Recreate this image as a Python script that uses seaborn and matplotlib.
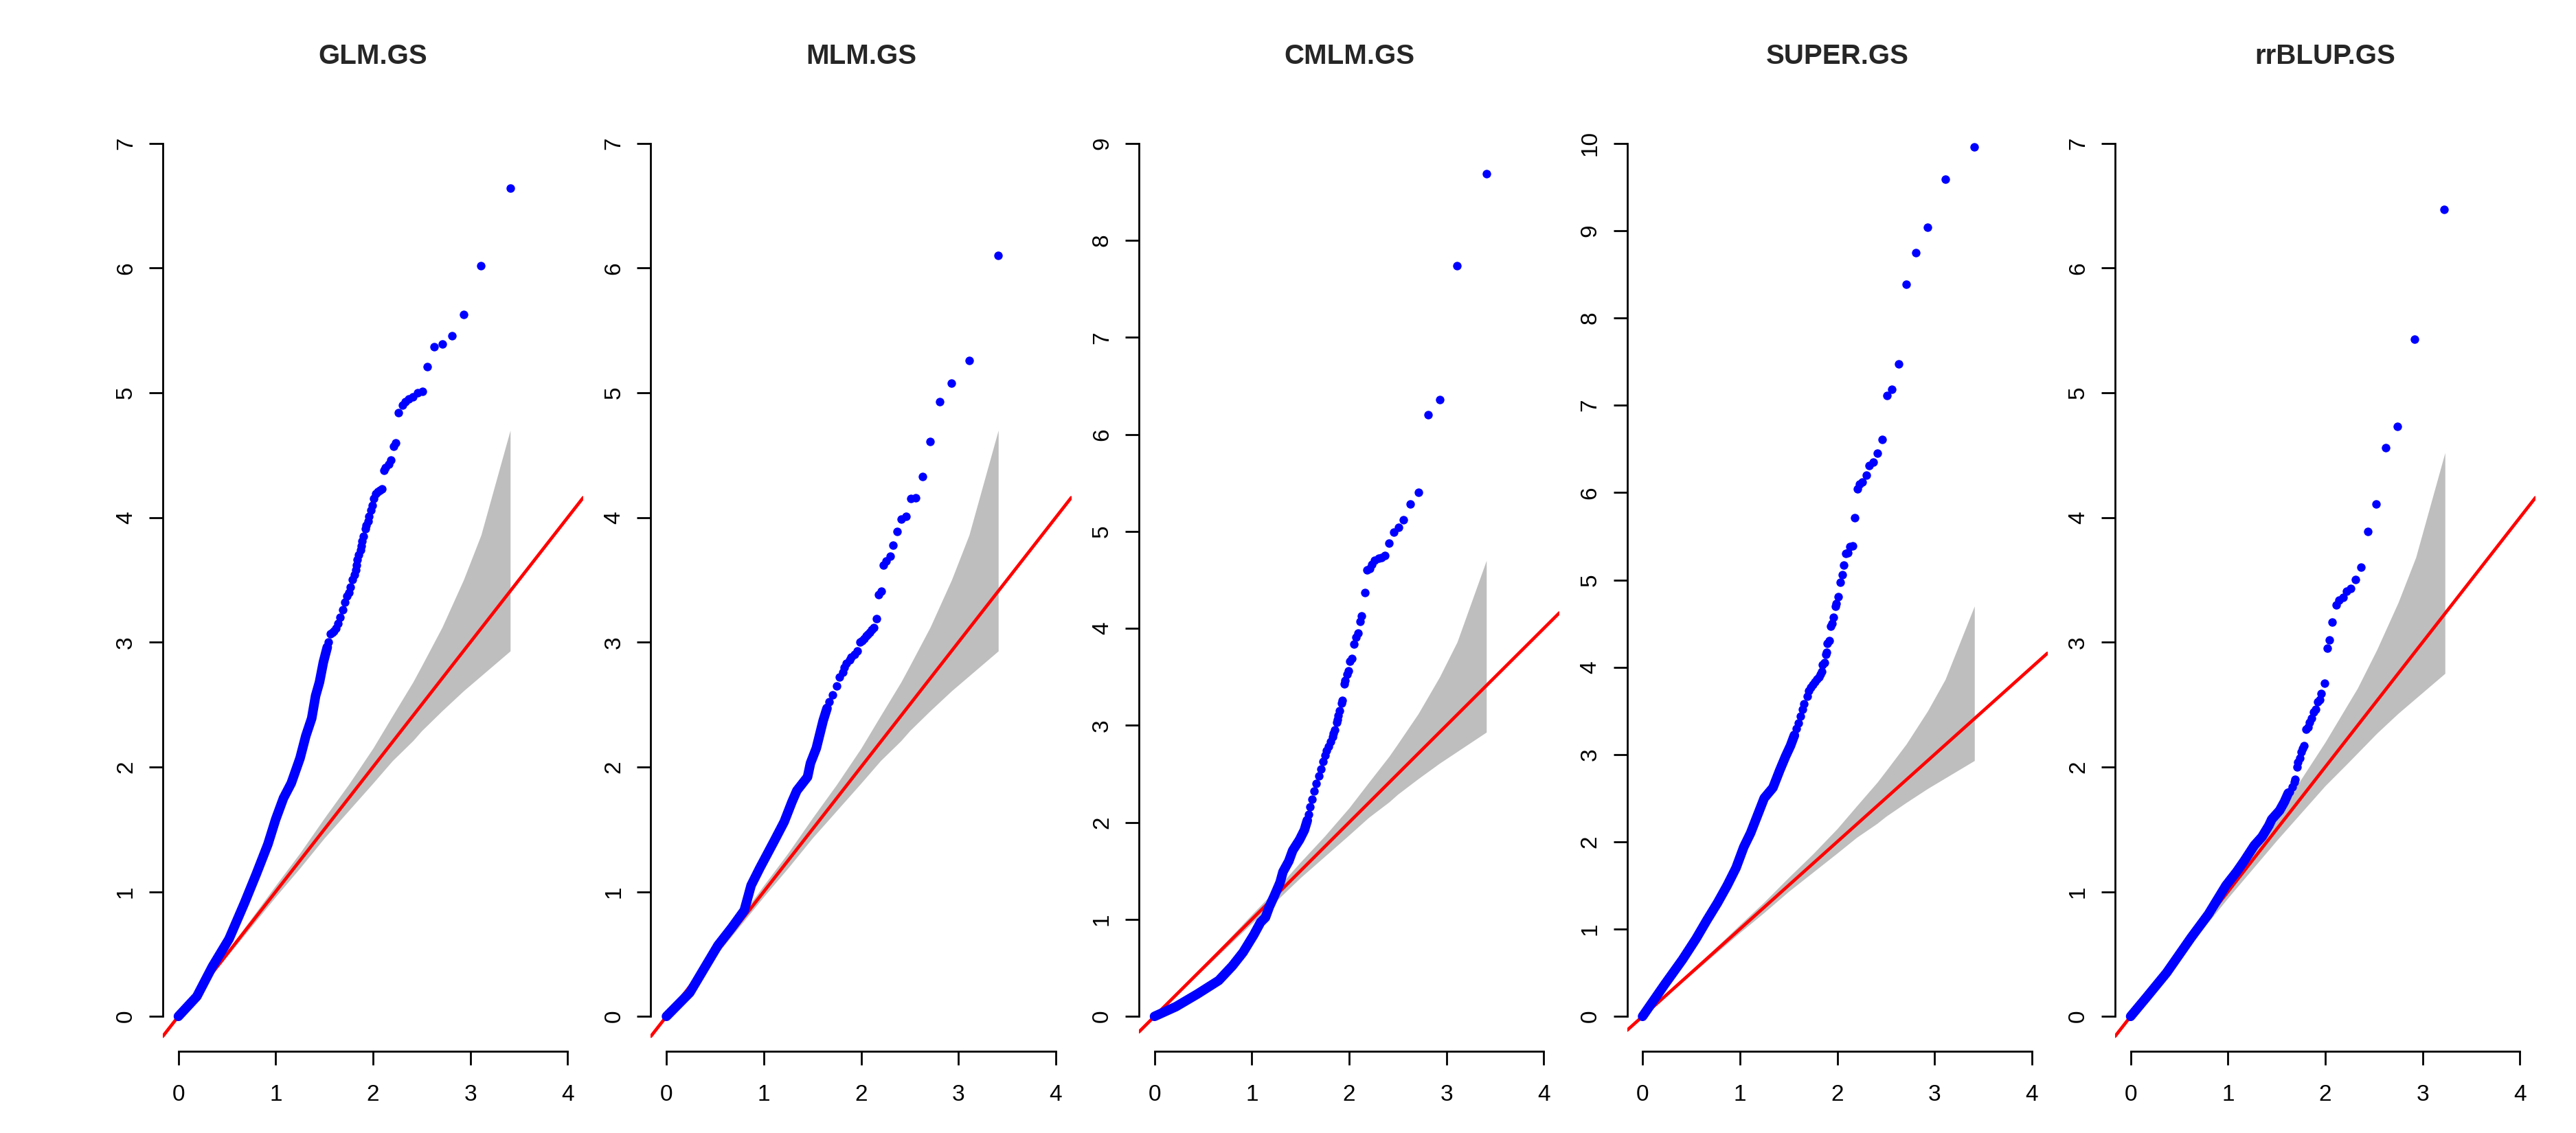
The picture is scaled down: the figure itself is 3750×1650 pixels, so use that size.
import matplotlib
matplotlib.use("Agg")
import matplotlib.pyplot as plt
import seaborn as sns

titles = ["GLM.GS", "MLM.GS", "CMLM.GS", "SUPER.GS", "rrBLUP.GS"]
y_tops = [7, 7, 9, 10, 7]

# grey confidence band (about 2570 markers)
band_x = [0, 0.5, 1.0, 1.25, 1.5, 1.75, 2.0, 2.2, 2.41, 2.5, 2.71, 2.93, 3.11, 3.41]
band_hi = [0, 0.52, 1.05, 1.31, 1.59, 1.86, 2.15, 2.41, 2.68, 2.81, 3.12, 3.50, 3.86, 4.70]
band_lo = [0, 0.48, 0.96, 1.19, 1.43, 1.65, 1.87, 2.05, 2.21, 2.29, 2.45, 2.61, 2.73, 2.93]

# rrBLUP band (fewer markers)
band5_x = [0, 0.5, 1.0, 1.5, 1.75, 2.0, 2.23, 2.33, 2.53, 2.75, 2.93, 3.23]
band5_hi = [0, 0.53, 1.06, 1.61, 1.90, 2.20, 2.50, 2.63, 2.94, 3.32, 3.68, 4.52]
band5_lo = [0, 0.47, 0.95, 1.41, 1.63, 1.85, 2.03, 2.11, 2.27, 2.43, 2.55, 2.75]

# dense part of each QQ curve (expected, observed -log10 p)
glm_trace_x = [0, 0.19, 0.35, 0.52, 0.68, 0.80, 0.92, 1.00, 1.08, 1.16, 1.25, 1.31, 1.37, 1.41, 1.45, 1.49, 1.53]
glm_trace_y = [0, 0.16, 0.40, 0.62, 0.91, 1.14, 1.38, 1.58, 1.75, 1.87, 2.07, 2.25, 2.39, 2.57, 2.68, 2.84, 2.96]
mlm_trace_x = [0, 0.24, 0.40, 0.53, 0.67, 0.80, 0.87, 0.96, 1.11, 1.21, 1.29, 1.34, 1.45, 1.48, 1.54, 1.61, 1.65]
mlm_trace_y = [0, 0.19, 0.40, 0.57, 0.71, 0.85, 1.05, 1.19, 1.41, 1.56, 1.72, 1.81, 1.92, 2.03, 2.15, 2.37, 2.47]
cmlm_trace_x = [0, 0.22, 0.44, 0.66, 0.80, 0.91, 1.02, 1.09, 1.14, 1.18, 1.23, 1.29, 1.32, 1.38, 1.42, 1.49, 1.54, 1.57]
cmlm_trace_y = [0, 0.10, 0.23, 0.37, 0.52, 0.66, 0.84, 0.97, 1.02, 1.13, 1.24, 1.38, 1.49, 1.60, 1.71, 1.82, 1.92, 2.02]
super_trace_x = [0, 0.23, 0.41, 0.55, 0.66, 0.77, 0.87, 0.96, 1.04, 1.11, 1.18, 1.25, 1.34, 1.41, 1.47, 1.52, 1.56]
super_trace_y = [0, 0.37, 0.65, 0.89, 1.10, 1.30, 1.50, 1.70, 1.94, 2.10, 2.30, 2.50, 2.62, 2.82, 2.98, 3.10, 3.22]
rrblup_trace_x = [0, 0.16, 0.37, 0.62, 0.80, 0.98, 1.09, 1.17, 1.27, 1.35, 1.42, 1.45, 1.53, 1.58, 1.62]
rrblup_trace_y = [0, 0.15, 0.35, 0.63, 0.82, 1.05, 1.16, 1.25, 1.37, 1.44, 1.53, 1.58, 1.65, 1.72, 1.79]

# sparse tail points
glm_pts_x = [3.41, 3.11, 2.93, 2.81, 2.71, 2.63, 2.56, 2.51, 2.46, 2.41, 2.37, 2.33, 2.30, 2.26, 2.23,
             2.21, 2.18, 2.16, 2.13, 2.11, 2.09, 2.07, 2.05, 2.03, 2.01, 1.99, 1.98, 1.96, 1.95, 1.93,
             1.92, 1.90, 1.89, 1.88, 1.87, 1.85, 1.84, 1.83, 1.82, 1.81, 1.79, 1.77, 1.75, 1.73, 1.71,
             1.69, 1.66, 1.64, 1.62, 1.60, 1.58, 1.56, 1.54]
glm_pts_y = [6.64, 6.02, 5.63, 5.46, 5.39, 5.37, 5.21, 5.01, 5.00, 4.97, 4.95, 4.93, 4.90, 4.84, 4.60,
             4.57, 4.46, 4.43, 4.40, 4.38, 4.23, 4.22, 4.21, 4.19, 4.15, 4.10, 4.06, 4.01, 3.97, 3.94,
             3.91, 3.85, 3.81, 3.77, 3.74, 3.70, 3.66, 3.62, 3.58, 3.54, 3.50, 3.44, 3.40, 3.37, 3.32,
             3.26, 3.20, 3.15, 3.11, 3.09, 3.08, 3.07, 3.00]
mlm_pts_x = [3.41, 3.11, 2.93, 2.81, 2.71, 2.63, 2.56, 2.51, 2.46, 2.41, 2.37, 2.33, 2.30, 2.26, 2.23,
             2.21, 2.18, 2.16, 2.13, 2.11, 2.09, 2.07, 2.05, 2.03, 2.01, 1.99, 1.96, 1.93, 1.90, 1.88,
             1.85, 1.83, 1.81, 1.78, 1.75, 1.71, 1.67]
mlm_pts_y = [6.10, 5.26, 5.08, 4.93, 4.61, 4.33, 4.16, 4.15, 4.01, 3.99, 3.89, 3.78, 3.69, 3.65, 3.62,
             3.41, 3.38, 3.19, 3.12, 3.10, 3.08, 3.06, 3.05, 3.03, 3.01, 3.00, 2.93, 2.90, 2.88, 2.86,
             2.83, 2.80, 2.76, 2.72, 2.65, 2.58, 2.52]
cmlm_pts_x = [3.41, 3.11, 2.93, 2.81, 2.71, 2.63, 2.56, 2.51, 2.46, 2.41, 2.37, 2.33, 2.30, 2.26, 2.23,
              2.21, 2.18, 2.16, 2.13, 2.11, 2.09, 2.07, 2.05, 2.03, 2.01, 1.99, 1.98, 1.96, 1.95, 1.93,
              1.92, 1.90, 1.89, 1.88, 1.87, 1.85, 1.84, 1.83, 1.81, 1.79, 1.77, 1.75, 1.73, 1.71, 1.69,
              1.66, 1.64, 1.62, 1.60, 1.58]
cmlm_pts_y = [8.69, 7.74, 6.36, 6.20, 5.40, 5.28, 5.12, 5.04, 4.99, 4.88, 4.75, 4.73, 4.72, 4.70, 4.66,
              4.62, 4.60, 4.37, 4.13, 4.07, 3.95, 3.91, 3.84, 3.69, 3.66, 3.56, 3.53, 3.46, 3.43, 3.26,
              3.23, 3.15, 3.10, 3.06, 3.03, 2.95, 2.92, 2.88, 2.83, 2.78, 2.74, 2.69, 2.63, 2.55, 2.48,
              2.40, 2.32, 2.24, 2.16, 2.08]
super_pts_x = [3.41, 3.11, 2.93, 2.81, 2.71, 2.63, 2.56, 2.51, 2.46, 2.41, 2.37, 2.33, 2.30, 2.26, 2.23,
               2.21, 2.18, 2.16, 2.13, 2.11, 2.09, 2.07, 2.05, 2.03, 2.01, 1.99, 1.98, 1.96, 1.95, 1.93,
               1.92, 1.90, 1.89, 1.88, 1.87, 1.85, 1.84, 1.83, 1.81, 1.79, 1.77, 1.75, 1.73, 1.71, 1.69,
               1.66, 1.64, 1.62, 1.60, 1.58, 1.56]
super_pts_y = [9.96, 9.59, 9.04, 8.75, 8.39, 7.47, 7.18, 7.11, 6.61, 6.45, 6.35, 6.31, 6.20, 6.12, 6.10,
               6.04, 5.71, 5.39, 5.38, 5.31, 5.30, 5.17, 5.06, 4.97, 4.81, 4.73, 4.70, 4.57, 4.50, 4.47,
               4.30, 4.27, 4.17, 4.15, 4.05, 4.03, 3.95, 3.92, 3.89, 3.86, 3.83, 3.80, 3.77, 3.73, 3.67,
               3.58, 3.52, 3.44, 3.36, 3.30, 3.22]
rrblup_pts_x = [3.22, 2.92, 2.74, 2.62, 2.52, 2.44, 2.37, 2.31, 2.26, 2.22, 2.18, 2.14, 2.11, 2.07, 2.04,
                2.02, 1.99, 1.96, 1.94, 1.92, 1.90, 1.88, 1.86, 1.84, 1.82, 1.80, 1.78, 1.77, 1.75, 1.74,
                1.72, 1.71, 1.69, 1.68, 1.66, 1.63]
rrblup_pts_y = [6.47, 5.43, 4.73, 4.56, 4.11, 3.89, 3.60, 3.50, 3.43, 3.41, 3.36, 3.34, 3.30, 3.16, 3.02,
                2.95, 2.67, 2.59, 2.54, 2.52, 2.46, 2.44, 2.39, 2.36, 2.32, 2.30, 2.17, 2.15, 2.12, 2.07,
                2.04, 2.00, 1.90, 1.88, 1.84, 1.80]

traces = [(glm_trace_x, glm_trace_y), (mlm_trace_x, mlm_trace_y), (cmlm_trace_x, cmlm_trace_y),
          (super_trace_x, super_trace_y), (rrblup_trace_x, rrblup_trace_y)]
points = [(glm_pts_x, glm_pts_y), (mlm_pts_x, mlm_pts_y), (cmlm_pts_x, cmlm_pts_y),
          (super_pts_x, super_pts_y), (rrblup_pts_x, rrblup_pts_y)]
bands = [(band_x, band_lo, band_hi)] * 4 + [(band5_x, band5_lo, band5_hi)]

sns.set_style("white")
plt.rcParams["font.family"] = ["Liberation Sans", "DejaVu Sans"]

fig = plt.figure(figsize=(37.5, 16.5), dpi=100)

for k in range(5):
    ax = fig.add_axes([(237 + 710.5 * k) / 3750, 119 / 1650, 612 / 3750, 1373 / 1650])
    top = y_tops[k]
    bx, blo, bhi = bands[k]
    ax.fill_between(bx, blo, bhi, color="#BEBEBE", linewidth=0)
    ax.axline((0, 0), slope=1, color="#FF0000", linewidth=3.4)
    tx, ty = traces[k]
    sns.lineplot(x=tx, y=ty, sort=False, estimator=None, color="#0000FF",
                 linewidth=10, solid_capstyle="round", solid_joinstyle="round", ax=ax)
    px, py = points[k]
    sns.scatterplot(x=px, y=py, color="#0000FF", s=80, linewidth=0, ax=ax)

    ax.set_xlim(-0.16, 4.16)
    ax.set_ylim(-0.04 * top, 1.04 * top)
    ax.set_xticks(range(0, 5))
    ax.set_yticks(range(0, top + 1))
    ax.set_xlabel("")
    ax.set_ylabel("")
    sns.despine(ax=ax)
    ax.spines["left"].set_bounds(0, top)
    ax.spines["bottom"].set_bounds(0, 4)
    for s in ["left", "bottom"]:
        ax.spines[s].set_linewidth(2)
        ax.spines[s].set_color("black")
    ax.tick_params(axis="both", length=14.4, width=2, color="black", labelsize=24,
                   labelcolor="black", direction="out", left=True, bottom=True)
    ax.tick_params(axis="x", pad=20)
    ax.tick_params(axis="y", pad=13)
    plt.setp(ax.get_yticklabels(), rotation=90, va="center")
    ax.set_title(titles[k], fontsize=29, fontweight="bold", pad=47)

fig.savefig("out.png", dpi=100, facecolor="white")
